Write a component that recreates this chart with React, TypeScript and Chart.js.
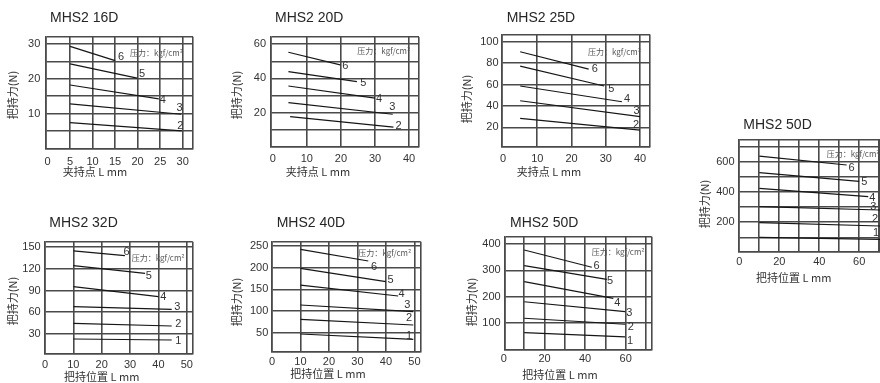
import React, { useEffect, useRef } from 'react';
import { Chart, registerables } from 'chart.js';

Chart.register(...registerables);

const W = 880;
const H = 383;
const LATIN = '"Liberation Sans", Arial, "Noto Sans CJK SC", sans-serif';
const CJK = '"Noto Sans CJK SC", "Liberation Sans", sans-serif';
const CAPTION = '压力：kgf/cm²';

// ---------------- MHS2 16D ----------------
const m16Levels = ['6', '5', '4', '3', '2'];
const m16StartX = [5, 5, 5, 5, 5];
const m16StartY = [29.3, 24.3, 18.2, 12.8, 7.4];
const m16EndX = [15, 19.9, 24.7, 29.7, 29.8];
const m16EndY = [25.2, 20.2, 14.2, 9.8, 5.0];
const m16LabelX = [16.3, 21, 25.6, 29.3, 29.5];
const m16LabelY = [26.4, 21.4, 13.9, 11.5, 6.5];
const m16XTicks = [0, 5, 10, 15, 20, 25, 30];
const m16YTicks = [10, 20, 30];
const m16XGrid = [5, 10, 15, 20, 25, 30];
const m16YGrid = [5, 10, 15, 20, 25, 30];

// ---------------- MHS2 20D ----------------
const m20Levels = ['6', '5', '4', '3', '2'];
const m20StartX = [4.6, 4.6, 4.6, 4.6, 5.1];
const m20StartY = [55.3, 44, 35.6, 25.9, 17.7];
const m20EndX = [19.8, 24.7, 30, 35.2, 35.4];
const m20EndY = [47.9, 38.2, 28.5, 19.1, 11.6];
const m20LabelX = [21.3, 26.6, 31.2, 35.1, 36.9];
const m20LabelY = [47.3, 37.2, 27.9, 23.2, 12.3];
const m20XTicks = [0, 10, 20, 30, 40];
const m20YTicks = [20, 40, 60];
const m20XGrid = [10, 20, 30, 40];
const m20YGrid = [10, 20, 30, 40, 50, 60];

// ---------------- MHS2 25D ----------------
const m25Levels = ['6', '5', '4', '3', '2'];
const m25StartX = [5, 5, 5, 5, 5];
const m25StartY = [90.6, 77.2, 58.6, 44.8, 28.3];
const m25EndX = [25, 29.5, 34.7, 40, 40];
const m25EndY = [74.4, 58.6, 43.9, 29.9, 17.4];
const m25LabelX = [26.8, 31.6, 36.2, 39, 38.8];
const m25LabelY = [74.5, 55.4, 46.4, 35.2, 22];
const m25XTicks = [0, 10, 20, 30, 40];
const m25YTicks = [20, 40, 60, 80, 100];
const m25XGrid = [10, 20, 30, 40];
const m25YGrid = [20, 40, 60, 80, 100];

// ---------------- MHS2 50D (right) ----------------
const m50rLevels = ['6', '5', '4', '3', '2', '1'];
const m50rStartX = [10, 10, 10, 10, 10, 10];
const m50rStartY = [638, 528, 424, 303, 197, 100];
const m50rEndX = [53.7, 60, 64.5, 70.4, 70.4, 70.4];
const m50rEndY = [579, 471, 369, 281, 175, 87];
const m50rLabelX = [56.2, 62.5, 66.5, 67, 67.9, 68.4];
const m50rLabelY = [557, 468, 358, 299, 219, 126];
const m50rXTicks = [0, 20, 40, 60];
const m50rYTicks = [200, 400, 600];
const m50rXGrid = [10, 20, 30, 40, 50, 60, 70];
const m50rYGrid = [100, 200, 300, 400, 500, 600, 700];

// ---------------- MHS2 32D ----------------
const m32Levels = ['6', '5', '4', '3', '2', '1'];
const m32StartX = [10, 10, 10, 10, 10, 10];
const m32StartY = [144.8, 124.4, 95.4, 67.7, 44.7, 23];
const m32EndX = [28.2, 35.3, 40, 44.7, 44.7, 44.7];
const m32EndY = [138.3, 113.9, 81.5, 64, 41, 21.6];
const m32LabelX = [28.8, 36.6, 41.7, 46.7, 47, 47];
const m32LabelY = [143.8, 110.2, 81.5, 66.9, 43.7, 20.6];
const m32XTicks = [0, 10, 20, 30, 40, 50];
const m32YTicks = [30, 60, 90, 120, 150];
const m32XGrid = [10, 20, 30, 40, 50];
const m32YGrid = [30, 60, 90, 120, 150];

// ---------------- MHS2 40D ----------------
const m40Levels = ['6', '5', '4', '3', '2', '1'];
const m40StartX = [10, 10, 10, 10, 10, 10];
const m40StartY = [242.4, 198.6, 160, 114, 81, 47];
const m40EndX = [33.8, 40, 44.3, 49.6, 49.6, 49.6];
const m40EndY = [215.5, 167.7, 134.7, 98.5, 67.8, 34.8];
const m40LabelX = [35.8, 41.6, 45.5, 47.5, 48.1, 48.1];
const m40LabelY = [201, 171.6, 138.6, 114, 83.3, 43];
const m40XTicks = [0, 10, 20, 30, 40, 50];
const m40YTicks = [50, 100, 150, 200, 250];
const m40XGrid = [10, 20, 30, 40, 50];
const m40YGrid = [50, 100, 150, 200, 250];

// ---------------- MHS2 50D (bottom) ----------------
const m50Levels = ['6', '5', '4', '3', '2', '1'];
const m50StartX = [10, 10, 10, 10, 10, 10];
const m50StartY = [378, 318, 257, 180, 117, 62];
const m50EndX = [43.3, 50.7, 53.9, 59.7, 59.7, 59.7];
const m50EndY = [312, 266, 193, 142, 94, 46];
const m50LabelX = [45.7, 52.3, 55.9, 61.8, 62.5, 62.1];
const m50LabelY = [317, 261, 176, 138, 82, 30];
const m50XTicks = [0, 20, 40, 60];
const m50YTicks = [100, 200, 300, 400];
const m50XGrid = [10, 20, 30, 40, 50, 60, 70];
const m50YGrid = [100, 200, 300, 400];

type Spec = {
  title: string;
  titleX: number;
  titleY: number;
  box: [number, number, number, number];
  xRange: [number, number];
  yRange: [number, number];
  xGrid: number[];
  yGrid: number[];
  xTicks: number[];
  yTicks: number[];
  xLabelY: number;
  yLabelGap: number;
  xTitle: string;
  xTitleX: number;
  xTitleY: number;
  yTitle: string;
  yTitleX: number;
  yTitleY: number;
  captionX: number;
  captionY: number;
  levels: string[];
  sx: number[];
  sy: number[];
  ex: number[];
  ey: number[];
  lx: number[];
  ly: number[];
};

const CLAMP = '夹持点 L mm';
const GRIP = '把持位置 L mm';
const FORCE = '把持力(N)';

const specs: Spec[] = [
  {
    title: 'MHS2 16D', titleX: 50, titleY: 18,
    box: [45.3, 36.7, 193, 148.3], xRange: [-0.5, 32.3], yRange: [0, 32.1],
    xGrid: m16XGrid, yGrid: m16YGrid, xTicks: m16XTicks, yTicks: m16YTicks,
    xLabelY: 161.5, yLabelGap: 5,
    xTitle: CLAMP, xTitleX: 95, xTitleY: 171.7,
    yTitle: FORCE, yTitleX: 12.7, yTitleY: 95,
    captionX: 130, captionY: 53.3,
    levels: m16Levels, sx: m16StartX, sy: m16StartY, ex: m16EndX, ey: m16EndY, lx: m16LabelX, ly: m16LabelY,
  },
  {
    title: 'MHS2 20D', titleX: 275, titleY: 18,
    box: [271, 37, 419, 147], xRange: [-0.5, 42.9], yRange: [0, 64.2],
    xGrid: m20XGrid, yGrid: m20YGrid, xTicks: m20XTicks, yTicks: m20YTicks,
    xLabelY: 158.5, yLabelGap: 5,
    xTitle: CLAMP, xTitleX: 318, xTitleY: 171.7,
    yTitle: FORCE, yTitleX: 236.7, yTitleY: 95,
    captionX: 357.3, captionY: 51,
    levels: m20Levels, sx: m20StartX, sy: m20StartY, ex: m20EndX, ey: m20EndY, lx: m20LabelX, ly: m20LabelY,
  },
  {
    title: 'MHS2 25D', titleX: 506.7, titleY: 18,
    box: [502, 34.5, 650, 147], xRange: [-0.3, 42.9], yRange: [1.6, 106.7],
    xGrid: m25XGrid, yGrid: m25YGrid, xTicks: m25XTicks, yTicks: m25YTicks,
    xLabelY: 158.5, yLabelGap: 3.5,
    xTitle: CLAMP, xTitleX: 549, xTitleY: 171.7,
    yTitle: FORCE, yTitleX: 466.7, yTitleY: 99,
    captionX: 588, captionY: 51.7,
    levels: m25Levels, sx: m25StartX, sy: m25StartY, ex: m25EndX, ey: m25EndY, lx: m25LabelX, ly: m25LabelY,
  },
  {
    title: 'MHS2 50D', titleX: 743.3, titleY: 125,
    box: [738.5, 139.3, 880, 251.7], xRange: [-0.4, 70.4], yRange: [5, 749],
    xGrid: m50rXGrid, yGrid: m50rYGrid, xTicks: m50rXTicks, yTicks: m50rYTicks,
    xLabelY: 261.7, yLabelGap: 4,
    xTitle: GRIP, xTitleX: 793.7, xTitleY: 278.3,
    yTitle: FORCE, yTitleX: 705, yTitleY: 204,
    captionX: 826.7, captionY: 154,
    levels: m50rLevels, sx: m50rStartX, sy: m50rStartY, ex: m50rEndX, ey: m50rEndY, lx: m50rLabelX, ly: m50rLabelY,
  },
  {
    title: 'MHS2 32D', titleX: 49.3, titleY: 223.3,
    box: [44.3, 241.7, 192.7, 353.3], xRange: [-0.25, 52.1], yRange: [3.2, 157.6],
    xGrid: m32XGrid, yGrid: m32YGrid, xTicks: m32XTicks, yTicks: m32YTicks,
    xLabelY: 365, yLabelGap: 3.6,
    xTitle: GRIP, xTitleX: 101.7, xTitleY: 376.7,
    yTitle: FORCE, yTitleX: 13, yTitleY: 301,
    captionX: 131.7, captionY: 257.7,
    levels: m32Levels, sx: m32StartX, sy: m32StartY, ex: m32EndX, ey: m32EndY, lx: m32LabelX, ly: m32LabelY,
  },
  {
    title: 'MHS2 40D', titleX: 276.7, titleY: 223.3,
    box: [271.7, 241.7, 420.7, 351.7], xRange: [-0.1, 52.2], yRange: [6.2, 260],
    xGrid: m40XGrid, yGrid: m40YGrid, xTicks: m40XTicks, yTicks: m40YTicks,
    xLabelY: 361.7, yLabelGap: 3.4,
    xTitle: GRIP, xTitleX: 328, xTitleY: 374,
    yTitle: FORCE, yTitleX: 237.3, yTitleY: 302,
    captionX: 358.3, captionY: 253.3,
    levels: m40Levels, sx: m40StartX, sy: m40StartY, ex: m40EndX, ey: m40EndY, lx: m40LabelX, ly: m40LabelY,
  },
  {
    title: 'MHS2 50D', titleX: 510, titleY: 223.3,
    box: [504.3, 236.7, 651.7, 350], xRange: [0.2, 72.8], yRange: [-4.6, 429],
    xGrid: m50XGrid, yGrid: m50YGrid, xTicks: m50XTicks, yTicks: m50YTicks,
    xLabelY: 359.3, yLabelGap: 3.6,
    xTitle: GRIP, xTitleX: 560, xTitleY: 375,
    yTitle: FORCE, yTitleX: 471.7, yTitleY: 302,
    captionX: 591.7, captionY: 252.3,
    levels: m50Levels, sx: m50StartX, sy: m50StartY, ex: m50EndX, ey: m50EndY, lx: m50LabelX, ly: m50LabelY,
  },
];

const GRID_COLOR = '#4a4a4a';
const GRID_WIDTH = 1.6;
const TEXT_COLOR = '#333333';

function textPlugin(spec: Spec) {
  return {
    id: 'panelText',
    afterDraw(chart: any) {
      const ctx: CanvasRenderingContext2D = chart.ctx;
      const xs = chart.scales.x;
      const ys = chart.scales.y;
      ctx.save();
      ctx.fillStyle = '#262626';
      ctx.font = `14px ${LATIN}`;
      ctx.textAlign = 'left';
      ctx.textBaseline = 'middle';
      ctx.fillText(spec.title, spec.titleX, spec.titleY);

      ctx.fillStyle = TEXT_COLOR;
      ctx.font = `11px ${LATIN}`;
      ctx.textAlign = 'center';
      spec.xTicks.forEach((v) => {
        ctx.fillText(String(v), xs.getPixelForValue(v), spec.xLabelY);
      });
      ctx.textAlign = 'right';
      spec.yTicks.forEach((v) => {
        ctx.fillText(String(v), spec.box[0] - spec.yLabelGap, ys.getPixelForValue(v));
      });

      ctx.font = `11px ${CJK}`;
      ctx.textAlign = 'center';
      ctx.fillText(spec.xTitle, spec.xTitleX, spec.xTitleY);

      ctx.save();
      ctx.translate(spec.yTitleX, spec.yTitleY);
      ctx.rotate(-Math.PI / 2);
      ctx.fillText(spec.yTitle, 0, 0);
      ctx.restore();

      ctx.fillStyle = '#555555';
      ctx.font = `8px ${CJK}`;
      ctx.textAlign = 'left';
      ctx.fillText(CAPTION, spec.captionX, spec.captionY);

      ctx.fillStyle = TEXT_COLOR;
      ctx.font = `11px ${LATIN}`;
      ctx.textAlign = 'center';
      spec.levels.forEach((lv, i) => {
        ctx.fillText(lv, xs.getPixelForValue(spec.lx[i]), ys.getPixelForValue(spec.ly[i]));
      });
      ctx.restore();
    },
  };
}

function axis(min: number, max: number, grid: number[], horizontal: boolean) {
  const values = [min, ...grid, max];
  return {
    type: 'linear',
    position: horizontal ? 'bottom' : 'left',
    min,
    max,
    afterBuildTicks: (s: any) => {
      s.ticks = values.map((v) => ({ value: v }));
    },
    afterFit: (s: any) => {
      if (horizontal) s.height = 0;
      else s.width = 0;
    },
    ticks: { display: false },
    title: { display: false },
    grid: { color: GRID_COLOR, lineWidth: GRID_WIDTH, drawTicks: false },
    border: { display: true, color: GRID_COLOR, width: GRID_WIDTH },
  };
}

function Panel({ spec }: { spec: Spec }) {
  const ref = useRef<HTMLCanvasElement | null>(null);
  useEffect(() => {
    if (!ref.current) return;
    const [l, t, r, b] = spec.box;
    const chart = new Chart(ref.current, {
      type: 'scatter',
      data: {
        datasets: spec.levels.map((lv, i) => ({
          label: lv,
          data: [
            { x: spec.sx[i], y: spec.sy[i] },
            { x: spec.ex[i], y: spec.ey[i] },
          ],
          showLine: true,
          borderColor: '#161616',
          backgroundColor: '#161616',
          borderWidth: 1.2,
          pointRadius: 0,
          pointHoverRadius: 0,
        })),
      },
      options: {
        responsive: false,
        animation: false,
        devicePixelRatio: 1,
        events: [],
        layout: { padding: { left: l, top: t, right: W - r, bottom: H - b } },
        plugins: {
          legend: { display: false },
          tooltip: { enabled: false },
          title: { display: false },
        },
        scales: {
          x: axis(spec.xRange[0], spec.xRange[1], spec.xGrid, true),
          y: axis(spec.yRange[0], spec.yRange[1], spec.yGrid, false),
        },
      } as any,
      plugins: [textPlugin(spec)],
    });
    return () => chart.destroy();
  }, [spec]);
  return (
    <canvas
      ref={ref}
      width={W}
      height={H}
      style={{ position: 'absolute', left: 0, top: 0, width: W, height: H }}
    />
  );
}

export default function App() {
  return (
    <div
      style={{
        position: 'absolute',
        left: 0,
        top: 0,
        width: W,
        height: H,
        background: '#ffffff',
        overflow: 'hidden',
      }}
    >
      {specs.map((s, i) => (
        <Panel key={i} spec={s} />
      ))}
    </div>
  );
}
